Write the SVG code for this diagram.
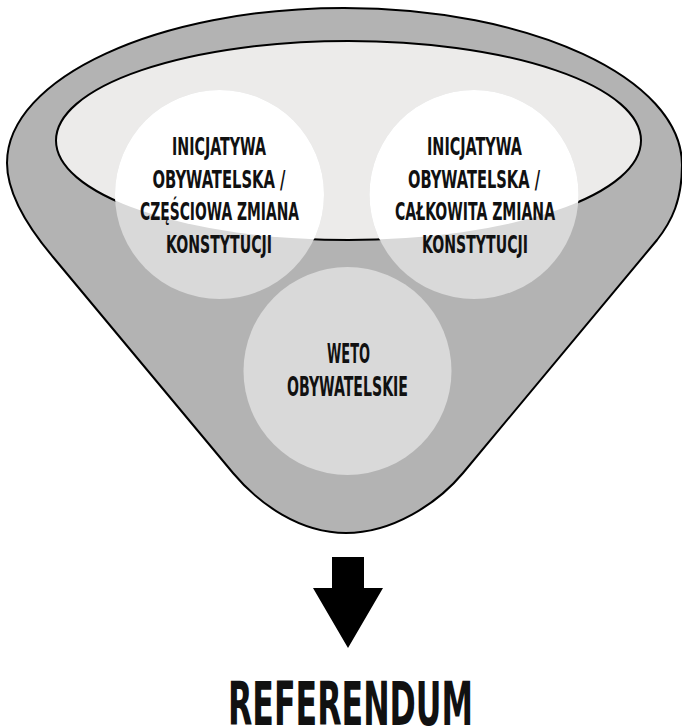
<svg xmlns="http://www.w3.org/2000/svg" width="682" height="728" viewBox="0 0 682 728">
<style>
.lbl{font-family:"DejaVu Sans Condensed","DejaVu Sans",sans-serif;font-weight:bold;font-size:24px;fill:#111;text-anchor:middle}
.big{font-size:26px}
.ref{font-size:60px}
.disc{fill:#d9d9d9}
.hi{fill:#ffffff}
</style>
<defs>
<clipPath id="ellClip"><ellipse cx="348.5" cy="140.5" rx="292.5" ry="99.5"/></clipPath>
</defs>
<g id="funnel">
<path d="M344,8 C530,8 682,78 682,165 C682,200 672,221 657,240 L463,473 C437,504 392,533 346,533 C300,533 259,504 233,473 L53,257 C37,238 7,200 7,163 C7,78 158,8 344,8 Z" fill="#b3b3b3" stroke="#000" stroke-width="2"/>
<ellipse cx="348.5" cy="140.5" rx="292.5" ry="99.5" fill="#ecebea" stroke="#000" stroke-width="2"/>
</g>
<g id="node-czesciowa">
<circle class="disc" cx="219.5" cy="194.5" r="104.5"/>
<circle class="hi" cx="219.5" cy="194.5" r="104.5" clip-path="url(#ellClip)"/>
<text class="lbl" x="219" y="155" textLength="94" lengthAdjust="spacingAndGlyphs">INICJATYWA</text>
<text class="lbl" x="219" y="187.5" textLength="133" lengthAdjust="spacingAndGlyphs">OBYWATELSKA /</text>
<text class="lbl" x="219.5" y="220" textLength="159" lengthAdjust="spacingAndGlyphs">CZĘŚCIOWA ZMIANA</text>
<text class="lbl" x="219" y="252.5" textLength="106" lengthAdjust="spacingAndGlyphs">KONSTYTUCJI</text>
</g>
<g id="node-calkowita">
<circle class="disc" cx="474" cy="194.5" r="104.5"/>
<circle class="hi" cx="474" cy="194.5" r="104.5" clip-path="url(#ellClip)"/>
<text class="lbl" x="474.5" y="155" textLength="95" lengthAdjust="spacingAndGlyphs">INICJATYWA</text>
<text class="lbl" x="474" y="187.5" textLength="132" lengthAdjust="spacingAndGlyphs">OBYWATELSKA /</text>
<text class="lbl" x="475" y="220" textLength="160" lengthAdjust="spacingAndGlyphs">CAŁKOWITA ZMIANA</text>
<text class="lbl" x="475" y="252.5" textLength="106" lengthAdjust="spacingAndGlyphs">KONSTYTUCJI</text>
</g>
<g id="node-weto">
<circle class="disc" cx="347.5" cy="371" r="104"/>
<text class="lbl big" x="348.5" y="363" textLength="43" lengthAdjust="spacingAndGlyphs">WETO</text>
<text class="lbl big" x="347.5" y="396" textLength="121" lengthAdjust="spacingAndGlyphs">OBYWATELSKIE</text>
</g>
<g id="connectors">
<path d="M332,557 L364,557 L364,588 L383,588 L348,648 L313,588 L332,588 Z" fill="#000"/>
</g>
<g id="node-referendum">
<text class="lbl ref" x="350.5" y="725" textLength="245" lengthAdjust="spacingAndGlyphs">REFERENDUM</text>
</g>
</svg>
